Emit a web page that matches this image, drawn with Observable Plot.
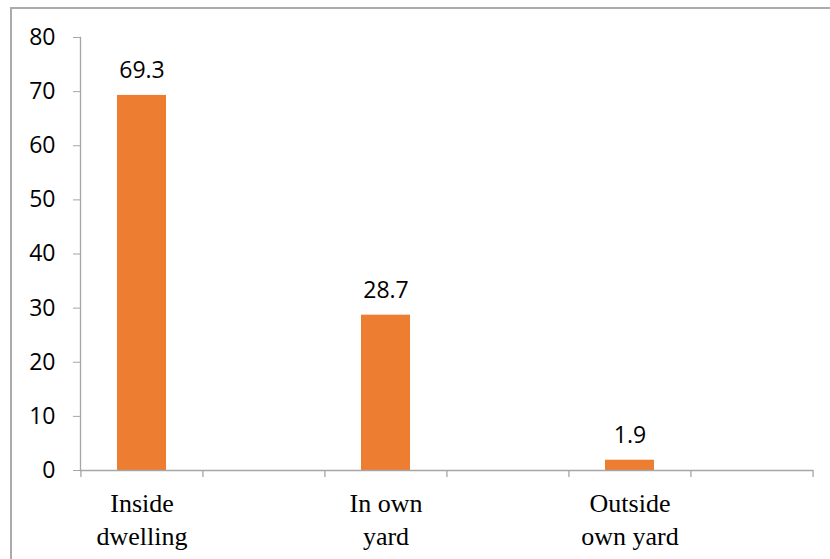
<!DOCTYPE html>
<html>
<head>
<meta charset="utf-8">
<script src="https://cdn.jsdelivr.net/npm/d3@7"></script>
<script src="https://cdn.jsdelivr.net/npm/@observablehq/plot@0.6"></script>
<style>
  html, body { margin: 0; padding: 0; background: #fff; overflow: hidden; }
  #wrap { position: relative; width: 830px; height: 559px; overflow: hidden; }
  #border { position: absolute; left: 10px; top: 7px; width: 900px; height: 700px; border: 2px solid #ababab; box-sizing: border-box; pointer-events: none; }
  #chart { position: absolute; left: 0; top: 0; }
</style>
</head>
<body>
<div id="wrap"><div id="border"></div><div id="chart"></div></div>
<script>
const slots = ["c1", "c2", "c3", "c4", "c5", "c6"];
const labels = ["Inside\ndwelling", "", "In own\nyard", "", "Outside\nown yard", ""];
const values = [69.3, null, 28.7, null, 1.9, null];
const yTicks = [0, 10, 20, 30, 40, 50, 60, 70, 80];

const data = slots.map((s, i) => ({slot: s, label: labels[i], value: values[i]}));
const bars = data.filter(d => d.value != null);

const W = 830, H = 559;
const mL = 80, mR = 17, mT = 37, mB = 89;
const step = (W - mL - mR) / slots.length;
const gray = "#a6a6a6";
const numFont = "'Open Sans', sans-serif";

const chart = Plot.plot({
  width: W,
  height: H,
  marginLeft: mL,
  marginRight: mR,
  marginTop: mT,
  marginBottom: mB,
  style: {background: "transparent", color: "#000"},
  x: {domain: slots, paddingInner: 0.6, paddingOuter: 0.3, axis: null},
  y: {domain: [0, 80], axis: null},
  marks: [
    Plot.barY(bars, {x: "slot", y: "value", fill: "#ED7D31"}),
    Plot.axisY({ticks: yTicks, label: null, tickSize: 7, tickPadding: 18, stroke: gray, fontSize: 23, fontFamily: numFont, fill: "#000"}),
    Plot.frame({anchor: "left", stroke: gray, strokeWidth: 1.3}),
    Plot.ruleY([0], {stroke: gray, strokeWidth: 1.3}),
    Plot.ruleX(slots, {x: d => d, y1: 0, y2: 0, insetBottom: -7, dx: -step / 2, stroke: gray, strokeWidth: 1.3}),
    Plot.ruleX(slots.slice(-1), {x: d => d, y1: 0, y2: 0, insetBottom: -7, dx: step / 2, stroke: gray, strokeWidth: 1.3}),
    Plot.text(bars, {x: "slot", y: "value", text: d => d.value.toFixed(1), dy: -25, lineAnchor: "middle", fontSize: 23, fontFamily: numFont, fill: "#000"}),
    Plot.text(data, {x: "slot", y: () => 0, text: "label", dy: 19, lineAnchor: "top", lineHeight: 1.24, fontSize: 26, fontFamily: "'Liberation Serif', 'Times New Roman', serif", fill: "#000"})
  ]
});
document.getElementById("chart").appendChild(chart);
</script>
</body>
</html>
